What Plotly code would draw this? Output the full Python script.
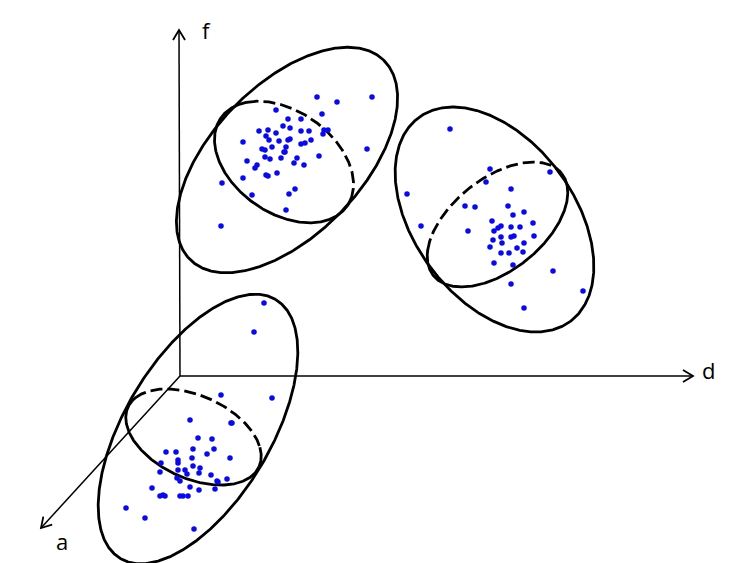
import numpy as np
import plotly.graph_objects as go

# ---------------- data (pixel-space coordinates of the diagram) ----------------
cluster1_x = [317, 337, 372, 276, 322, 301, 288, 283, 290, 259, 268, 276, 301, 309, 324, 328, 323,
              266, 269, 279, 288, 290, 243, 311, 301, 305, 286, 272, 262, 265, 284, 285, 367, 265,
              270, 281, 297, 319, 247, 294, 257, 255, 304, 266, 268, 277, 243, 222, 295, 289, 252,
              286, 221]
cluster1_y = [97, 102, 97, 110, 114, 119, 119, 126, 128, 131, 130, 133, 131, 131, 130, 130, 134,
              136, 140, 141, 140, 139, 142, 140, 144, 143, 147, 147, 149, 150, 152, 152, 149, 157,
              159, 158, 158, 156, 161, 163, 165, 168, 165, 175, 176, 173, 178, 183, 189, 194, 195,
              210, 226]

cluster2_x = [450, 407, 490, 550, 486, 511, 465, 475, 508, 524, 513, 421, 492, 533, 501, 498, 511,
              520, 468, 494, 534, 501, 511, 514, 493, 502, 524, 490, 517, 501, 509, 523, 494, 513,
              553, 511, 583, 524]
cluster2_y = [129, 194, 169, 172, 182, 189, 206, 207, 206, 212, 215, 226, 221, 223, 226, 228, 227,
              227, 231, 231, 236, 237, 237, 236, 240, 243, 243, 247, 248, 253, 253, 252, 263, 265,
              271, 284, 291, 308]

cluster3_x = [264, 254, 221, 272, 190, 231, 232, 198, 212, 193, 214, 166, 176, 207, 230, 178, 192,
              178, 161, 193, 200, 178, 185, 160, 199, 187, 211, 177, 227, 180, 217, 218, 152, 190,
              199, 215, 163, 160, 165, 180, 183, 188, 126, 145, 194]
cluster3_y = [303, 332, 395, 398, 420, 423, 423, 438, 439, 449, 449, 452, 452, 454, 458, 460, 458,
              463, 463, 466, 468, 470, 470, 472, 473, 474, 475, 478, 479, 481, 481, 482, 488, 487,
              490, 489, 495, 496, 496, 496, 496, 496, 508, 518, 529]

# ellipses: centre x, centre y, semi-major, semi-minor, rotation (deg, screen coords)
outer_cx = [287, 494.5, 198]
outer_cy = [160, 219.5, 429]
outer_a = [139, 127, 151]
outer_b = [75, 80, 73]
outer_rot = [-46, 53.3, -59]

inner_cx = [284, 497.5, 193.5]
inner_cy = [162, 224.5, 437]
inner_a = [77, 82, 72]
inner_b = [51, 46, 41.4]
inner_rot = [35, -38.5, 24.5]
# arc (screen angle range, deg) drawn dashed (hidden part)
inner_dash_from = [-122, 160, -146]
inner_dash_to = [21, -41, 9]

# axes: origin and tips
axis_origin = (180, 376)
axis_tips = {"f": (179, 30), "d": (693, 376), "a": (41, 528)}
axis_label_pos = {"f": (206, 30), "d": (708, 370), "a": (62, 541)}

W, H = 750, 563
fig = go.Figure()


def ellipse_pts(cx, cy, a, b, rot, n=721):
    t = np.linspace(0, 2 * np.pi, n)
    r = np.deg2rad(rot)
    x = cx + a * np.cos(t) * np.cos(r) - b * np.sin(t) * np.sin(r)
    y = cy + a * np.cos(t) * np.sin(r) + b * np.sin(t) * np.cos(r)
    return x, y


# outer ellipses
for i in range(3):
    x, y = ellipse_pts(outer_cx[i], outer_cy[i], outer_a[i], outer_b[i], outer_rot[i])
    fig.add_trace(go.Scatter(x=x, y=y, mode="lines", line=dict(color="black", width=2.8),
                             hoverinfo="skip", showlegend=False))

# inner ellipses (solid + dashed parts)
for i in range(3):
    x, y = ellipse_pts(inner_cx[i], inner_cy[i], inner_a[i], inner_b[i], inner_rot[i])
    ang = np.degrees(np.arctan2(y - inner_cy[i], x - inner_cx[i]))
    lo, hi = inner_dash_from[i], inner_dash_to[i]
    if lo <= hi:
        dashed = (ang >= lo) & (ang <= hi)
    else:
        dashed = (ang >= lo) | (ang <= hi)
    d_ext = dashed | np.roll(dashed, 1) | np.roll(dashed, -1)
    s_ext = (~dashed) | np.roll(~dashed, 1) | np.roll(~dashed, -1)
    xs = np.where(s_ext, x, np.nan)
    ys = np.where(s_ext, y, np.nan)
    xd = np.where(d_ext, x, np.nan)
    yd = np.where(d_ext, y, np.nan)
    fig.add_trace(go.Scatter(x=xs, y=ys, mode="lines", line=dict(color="black", width=2.8),
                             connectgaps=False, hoverinfo="skip", showlegend=False))
    fig.add_trace(go.Scatter(x=xd, y=yd, mode="lines",
                             line=dict(color="black", width=2.8, dash="12px,5px"),
                             connectgaps=False, hoverinfo="skip", showlegend=False))

# axes with open arrowheads
ox, oy = axis_origin
for name, (tx, ty) in axis_tips.items():
    fig.add_trace(go.Scatter(x=[ox, tx], y=[oy, ty], mode="lines",
                             line=dict(color="black", width=1.5),
                             hoverinfo="skip", showlegend=False))
    u = np.array([tx - ox, ty - oy], dtype=float)
    u /= np.linalg.norm(u)
    p = np.array([-u[1], u[0]])
    back = np.array([tx, ty]) - 10 * u
    w1 = back + 6 * p
    w2 = back - 6 * p
    fig.add_trace(go.Scatter(x=[w1[0], tx, w2[0]], y=[w1[1], ty, w2[1]], mode="lines",
                             line=dict(color="black", width=1.8),
                             hoverinfo="skip", showlegend=False))
    lx, ly = axis_label_pos[name]
    fig.add_annotation(x=lx, y=ly, text=name, showarrow=False,
                       font=dict(family="Open Sans, Liberation Sans, sans-serif", size=22,
                                 color="black"),
                       xanchor="center", yanchor="middle")

# clusters
for cx_, cy_ in [(cluster1_x, cluster1_y), (cluster2_x, cluster2_y), (cluster3_x, cluster3_y)]:
    fig.add_trace(go.Scatter(x=cx_, y=cy_, mode="markers",
                             marker=dict(color="#0a0ae6", size=5.5),
                             hoverinfo="skip", showlegend=False))

fig.update_layout(
    width=W, height=H,
    margin=dict(l=0, r=0, t=0, b=0),
    paper_bgcolor="white", plot_bgcolor="white",
    xaxis=dict(range=[0, W], visible=False, fixedrange=True),
    yaxis=dict(range=[H, 0], visible=False, fixedrange=True),
)

fig.write_html("out.html", config={"displayModeBar": False},
               post_script="document.body.style.margin='0px';document.body.style.overflow='hidden';")
